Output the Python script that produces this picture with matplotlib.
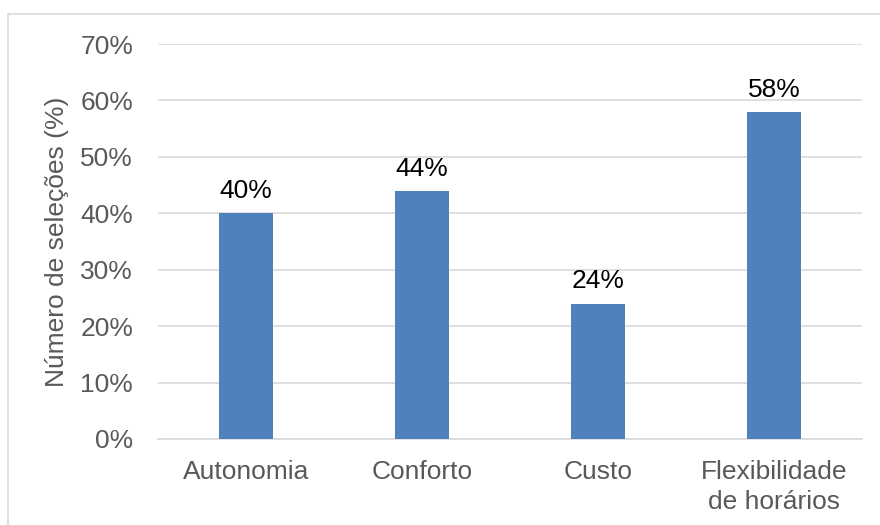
import matplotlib.pyplot as plt
from matplotlib.patches import Rectangle
import numpy as np

plt.rcParams['font.family'] = ['Liberation Sans', 'DejaVu Sans']

# dados do gráfico
categorias = ['Autonomia', 'Conforto', 'Custo', 'Flexibilidade\nde horários']
valores = [40, 44, 24, 58]

fig = plt.figure(figsize=(8.8, 5.25), dpi=100)
ax = fig.add_axes([158/880, 1 - 439/525, 704/880, 395/525])

# moldura do gráfico
fig.patches.append(Rectangle((8/880, -0.05), 1.0, 1 - 14/525 + 0.05,
                             transform=fig.transFigure, fill=False,
                             edgecolor='#D9D9D9', linewidth=1.2))

x = np.arange(len(categorias))
ax.bar(x, valores, width=0.31, color='#4F81BD', zorder=3)

for xi, v in zip(x, valores):
    ax.text(xi, v + 1.8, f'{v}%', ha='center', va='bottom',
            fontsize=19, color='black')

ax.set_xlim(-0.5, len(categorias) - 0.5)
ax.set_ylim(0, 70)
ax.set_yticks(np.arange(0, 71, 10))
ax.set_yticklabels([f'{t}%' for t in range(0, 71, 10)])
ax.set_xticks(x)
ax.set_xticklabels(categorias, linespacing=1.3)

ax.grid(axis='y', color='#D9D9D9', linewidth=1.2, zorder=0)
for s in ['top', 'right', 'left']:
    ax.spines[s].set_visible(False)
ax.spines['bottom'].set_color('#D9D9D9')
ax.spines['bottom'].set_linewidth(1.2)
ax.tick_params(axis='both', length=0, labelsize=19, labelcolor='#595959')
ax.tick_params(axis='y', pad=18)
ax.tick_params(axis='x', pad=15)

ax.set_ylabel('Número de seleções (%)', fontsize=19, color='#595959', labelpad=8)

fig.savefig('out.png', dpi=100)
